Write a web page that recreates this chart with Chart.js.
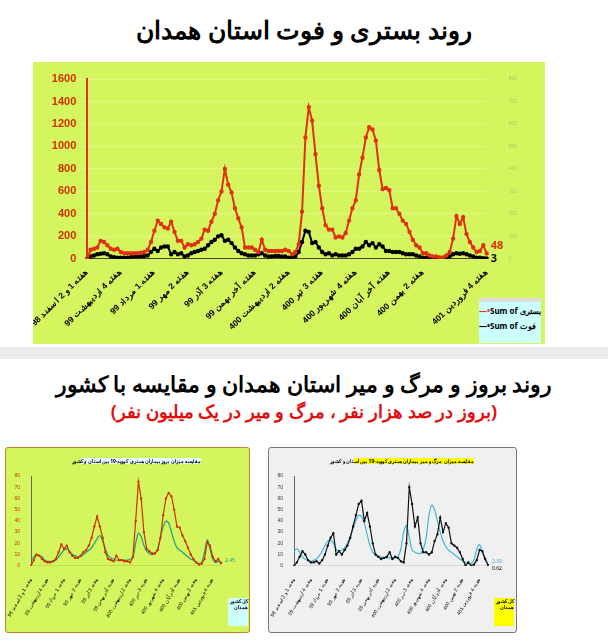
<!DOCTYPE html>
<html><head><meta charset="utf-8">
<script src="https://cdn.jsdelivr.net/npm/chart.js@4"></script>
<style>
body{margin:0;width:608px;height:640px;background:#fff;font-family:"Noto Sans",sans-serif;position:relative;overflow:hidden}
.t{position:absolute;left:0;width:608px;text-align:center;font-weight:bold;direction:rtl;white-space:nowrap}
#main{position:absolute;left:33px;top:62px;width:512px;height:282px;background:#d4f55e}
#band{position:absolute;left:0;top:347px;width:608px;height:12px;background:#ececec}
#bl{position:absolute;left:5px;top:447px;width:243px;height:184px;background:#d4f55e;border:1px solid #c08030;border-radius:3px}
#br{position:absolute;left:268px;top:447px;width:247px;height:184px;background:#f0f0f0;border:1px solid #777;border-radius:3px}
.leg{position:absolute;font-size:8px;font-weight:bold;white-space:nowrap}
</style></head><body>
<div class="t" style="top:12px;font-size:25px">روند بستری و فوت استان همدان</div>
<div id="main"><canvas id="c1" width="512" height="282"></canvas>
<div class="leg" style="left:446px;top:236px;width:62px;height:38px;background:#ccffff;border-top:4px solid #ddd;padding-top:3px">
<div><span style="color:#e03010">—•</span><span dir="ltr">Sum of </span><span dir="rtl">بستری</span></div>
<div style="margin-top:4px">—•<span dir="ltr">Sum of </span><span dir="rtl">فوت</span></div></div>
</div>
<div id="band"></div>
<div class="t" style="top:368px;font-size:22px">روند بروز و مرگ و میر استان همدان و مقایسه با کشور</div>
<div class="t" style="top:399px;font-size:18px;color:#e01010">(بروز در صد هزار نفر ، مرگ و میر در یک میلیون نفر)</div>
<div id="bl"><canvas id="c2" width="243" height="184"></canvas>
<div class="t" style="left:75px;top:10px;width:120px;font-size:5px;background:#e8ffff">مقایسه میزان بروز بیماران بستری کووید-19 بین استان و کشور</div>
<div class="leg" style="left:222px;top:150px;width:20px;height:28px;background:#ccffff;font-size:5px;direction:rtl">کل کشور<br>همدان</div></div>
<div id="br"><canvas id="c3" width="247" height="184"></canvas>
<div class="t" style="left:85px;top:10px;width:120px;font-size:5px;background:#ffff00">مقایسه میزان مرگ و میر بیماران بستری کووید-19 بین استان و کشور</div>
<div class="leg" style="left:225px;top:150px;width:20px;height:28px;background:#ffff00;font-size:5px;direction:rtl">کل کشور<br>همدان</div></div>
<script>
const tickLabels=["هفته 1 و 2 اسفند 98","هفته 4 اردیبهشت 99","هفته 1 مرداد 99","هفته 2 مهر 99","هفته 3 آذر 99","هفته آخر بهمن 99","هفته 2 اردیبهشت 400","هفته 3 تیر 400","هفته 4 شهریور 400","هفته آخر آبان 400","هفته 2 بهمن 400","هفته 4 فروردین 401"];
const hospital=[0,80,90,100,160,150,120,90,80,90,
60,50,50,50,50,50,55,60,80,150,
250,340,310,280,270,330,240,160,160,100,
130,120,130,150,180,260,250,330,400,520,
600,800,660,590,450,360,280,100,100,100,
80,60,170,80,70,70,70,70,70,80,
70,40,60,130,420,1080,1350,1230,930,650,
450,300,260,260,190,200,190,230,340,450,
520,750,900,1080,1170,1150,1050,790,620,630,
610,450,450,400,340,310,240,170,120,100,
50,50,30,20,20,10,10,30,60,180,
380,310,370,220,150,100,60,70,120,48];
const deaths=[0,20,30,40,45,50,40,20,15,10,
10,10,10,15,20,20,20,25,30,60,
90,70,100,110,110,40,60,40,50,20,
30,50,60,70,80,90,120,150,170,200,
210,160,170,140,100,70,50,40,30,30,
30,40,50,30,20,20,25,25,20,20,
10,10,20,60,150,250,240,140,150,100,
60,40,50,30,40,30,30,30,40,60,
90,90,110,150,120,140,100,130,110,70,
70,60,60,60,50,40,40,40,30,20,
10,10,10,10,10,10,10,10,20,40,
50,45,50,40,30,20,10,10,5,3];
const incHamedan=[0,5,10,9,6,4,3,3,4,6,12,19,15,18,12,9,7,7,9,12,14,18,25,35,44,35,25,12,6,5,4,9,5,5,4,4,3,8,40,75,60,30,15,13,11,11,14,25,45,60,65,62,50,35,34,27,22,16,10,6,3,1,2,6,21,18,8,4,6,2.45];
const incCountry=[5,8,10,9,8,5,4,4,4,5,8,11,14,15,13,10,9,8,8,10,12,14,16,20,24,27,22,15,9,7,6,5,5,5,5,5,6,7,20,29,26,18,13,11,10,11,15,25,35,40,38,30,22,16,14,12,10,8,6,5,3,2,3,12,23,15,6,3,4,2.45];
const mortHamedan=[0,3,8,13,10,5,3,3,4,2,5,10,18,25,29,10,13,10,14,18,25,35,45,55,58,40,47,35,20,10,8,6,7,8,12,6,8,7,4,3,20,70,55,35,43,20,12,12,10,12,22,28,43,30,38,34,20,18,16,12,6,0,3,0,1,5,14,13,6,0.62];
const mortCountry=[13,15,12,8,6,5,4,5,6,9,13,18,22,23,20,15,13,14,16,20,26,33,40,45,44,38,28,18,12,10,8,8,7,7,7,7,7,8,15,30,36,25,14,12,11,11,15,25,45,54,50,40,30,22,17,14,12,10,8,6,4,3,2,2,5,15,19,12,5,2.39];

const cats1=hospital.map((_,i)=>i%10===0&&i<110?tickLabels[i/10]:"");
cats1[cats1.length-1]=tickLabels[11];
const cats2=incHamedan.map((_,i)=>i%6===0&&tickLabels[i/6]?tickLabels[i/6]:"");
const endLabel={id:'end',afterDatasetsDraw(ch,a,o){if(!o.items)return;const c=ch.ctx;o.items.forEach(it=>{const m=ch.getDatasetMeta(it.ds).data;const p=m[m.length-1];c.save();c.fillStyle=it.color;c.font=it.font;c.textBaseline='middle';c.fillText(it.text,p.x+4,p.y+(it.dy||0));c.restore();});}};
Chart.register(endLabel);
new Chart(document.getElementById('c1'),{type:'line',data:{labels:cats1,datasets:[
{data:hospital,borderColor:'#e03010',backgroundColor:'#e03010',borderWidth:2,pointRadius:1.2,tension:0},
{data:deaths,borderColor:'#000',backgroundColor:'#000',borderWidth:2,pointRadius:1.2,tension:0}]},
options:{responsive:false,animation:false,layout:{padding:{left:4,right:14,top:12,bottom:12}},
plugins:{legend:{display:false},tooltip:{enabled:false},end:{items:[{ds:0,text:'48',color:'#e03010',font:'bold 11px Noto Sans',dy:-8},{ds:1,text:'3',color:'#000',font:'bold 11px Noto Sans',dy:0}]}},
scales:{x:{grid:{display:false},border:{color:'#444'},ticks:{autoSkip:false,maxRotation:45,minRotation:45,color:'#000',font:{size:8.5,weight:'bold'},padding:0,callback(v){return cats1[v]}}},
y:{min:0,max:1600,ticks:{stepSize:200,color:'#d03000',font:{size:11,weight:'bold'},callback:v=>String(v)},grid:{color:'rgba(255,255,255,0.25)'},border:{color:'#e03010',width:2}},
y1:{position:'right',min:0,max:800,ticks:{stepSize:100,color:'#b0c870',font:{size:5},padding:14},grid:{display:false},border:{display:false}}}}});
function small(id,a,b,ca,cb,la,lb,mx){
new Chart(document.getElementById(id),{type:'line',data:{labels:cats2,datasets:[
{data:a,borderColor:ca,borderWidth:1.2,pointRadius:0.6,pointBackgroundColor:ca,tension:0},
{data:b,borderColor:cb,borderWidth:1.2,pointRadius:0,tension:0.3}]},
options:{responsive:false,animation:false,layout:{padding:{left:2,right:28,top:28,bottom:10}},
plugins:{legend:{display:false},tooltip:{enabled:false},end:{items:[{ds:1,text:lb,color:cb,font:'5px Noto Sans',dy:-2},{ds:0,text:la,color:'#000',font:'5px Noto Sans',dy:3}]}},
scales:{x:{grid:{display:false},ticks:{autoSkip:false,maxRotation:60,minRotation:60,font:{size:5},color:'#000',callback(v){return cats2[v]}}},
y:{min:0,max:80,ticks:{stepSize:10,font:{size:5},color:mx},grid:{display:false},border:{color:'#666'}}}}});}
small('c2',incHamedan,incCountry,'#cc3300','#1a9e8a','','2.45','#cc3300');
small('c3',mortHamedan,mortCountry,'#111','#40b8d8','0.62','2.39','#333');
</script></body></html>
